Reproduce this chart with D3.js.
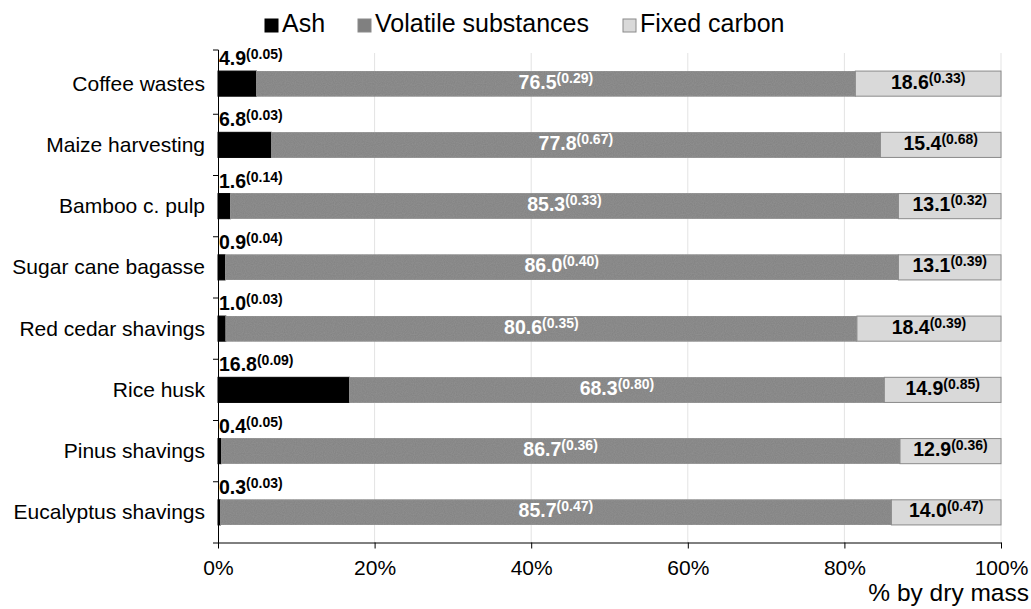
<!DOCTYPE html>
<html><head><meta charset="utf-8">
<script src="https://cdn.jsdelivr.net/npm/d3@7/dist/d3.min.js"></script>
<style>body{margin:0;background:#fff;} svg{font-family:"Liberation Sans",Arial,sans-serif;}</style>
</head><body>
<svg id="c" width="1031" height="609"></svg>
<script>
const categories = ["Coffee wastes","Maize harvesting","Bamboo c. pulp","Sugar cane bagasse","Red cedar shavings","Rice husk","Pinus shavings","Eucalyptus shavings"];
const ash = [4.9, 6.8, 1.6, 0.9, 1.0, 16.8, 0.4, 0.3];
const ashSd = ["0.05","0.03","0.14","0.04","0.03","0.09","0.05","0.03"];
const volatile = [76.5, 77.8, 85.3, 86.0, 80.6, 68.3, 86.7, 85.7];
const volatileSd = ["0.29","0.67","0.33","0.40","0.35","0.80","0.36","0.47"];
const fixed = [18.6, 15.4, 13.1, 13.1, 18.4, 14.9, 12.9, 14.0];
const fixedSd = ["0.33","0.68","0.32","0.39","0.39","0.85","0.36","0.47"];
const seriesNames = ["Ash","Volatile substances","Fixed carbon"];
const xTicks = [0,20,40,60,80,100];

const svg = d3.select("#c");
const x = d3.scaleLinear().domain([0,100]).range([218,1001]);
const y = d3.scaleBand().domain(categories).range([53,543]).paddingInner(0.59).paddingOuter(0.295);

const defs = svg.append("defs");
const f = defs.append("filter").attr("id","noise").attr("x",0).attr("y",0).attr("width","100%").attr("height","100%");
f.append("feTurbulence").attr("type","fractalNoise").attr("baseFrequency",0.9).attr("numOctaves",1).attr("result","n");
f.append("feColorMatrix").attr("in","n").attr("type","matrix").attr("values","0 0 0 0 0.5  0 0 0 0 0.5  0 0 0 0 0.5  0 0 0 0.25 0").attr("result","m");
f.append("feComposite").attr("in","m").attr("in2","SourceGraphic").attr("operator","atop");

// gridlines
svg.append("g").selectAll("line").data(xTicks.slice(1)).join("line")
  .attr("x1",d=>x(d)).attr("x2",d=>x(d)).attr("y1",53).attr("y2",543)
  .attr("stroke","#e3e3e3").attr("stroke-width",1);

const colors = ["#000000","#808080","#d9d9d9"];
const data = categories.map((c,i)=>({c, vals:[ash[i],volatile[i],fixed[i]]}));

const rowG = svg.append("g").selectAll("g").data(data).join("g");
rowG.each(function(d){
  let acc = 0;
  const g = d3.select(this);
  d.vals.forEach((v,k)=>{
    g.append("rect").attr("x",x(acc)).attr("y",y(d.c)).attr("width",x(acc+v)-x(acc)).attr("height",y.bandwidth())
      .attr("fill",colors[k]).attr("stroke", k===0?"#000":"#8a8a8a").attr("stroke-width",1)
      .attr("filter", k===1?"url(#noise)":null);
    acc += v;
  });
});

function label(xp, yp, val, sd, color, anchor){
  const t = svg.append("text").attr("x",xp).attr("y",yp).attr("fill",color).attr("font-weight","bold").attr("text-anchor",anchor);
  t.append("tspan").attr("font-size",19.5).text(val.toFixed(1));
  t.append("tspan").attr("font-size",14).attr("dy",-6).text("("+sd+")");
}
categories.forEach((c,i)=>{
  const yc = y(c)+y.bandwidth()/2;
  label(x(0)+1, y(c)-6, ash[i], ashSd[i], "#000", "start");
  label(x(ash[i]+volatile[i]/2), yc+5, volatile[i], volatileSd[i], "#fff", "middle");
  label(x(ash[i]+volatile[i]+fixed[i]/2), yc+5, fixed[i], fixedSd[i], "#000", "middle");
});

// y axis
const yAxisG = svg.append("g");
yAxisG.append("line").attr("x1",218.5).attr("x2",218.5).attr("y1",50).attr("y2",543).attr("stroke","#000");
const step = y.step();
const bounds = d3.range(categories.length+1).map(i=>53 + i*step - (i===0?3:0));
yAxisG.selectAll("line.t").data(bounds).join("line").attr("class","t")
  .attr("x1",213).attr("x2",218.5).attr("y1",d=>d).attr("y2",d=>d).attr("stroke","#000");
yAxisG.selectAll("text").data(categories).join("text")
  .attr("x",205).attr("y",d=>y(d)+y.bandwidth()/2+7).attr("text-anchor","end")
  .attr("font-size",21).attr("fill","#000").text(d=>d);

// x axis
const xAxis = d3.axisBottom(x).tickValues(xTicks).tickFormat(d=>d+"%").tickSize(6).tickSizeOuter(0);
const xg = svg.append("g").attr("transform","translate(0,542.5)").call(xAxis);
xg.select(".domain").attr("stroke","#000");
xg.selectAll(".tick line").attr("stroke","#000");
xg.selectAll(".tick text").attr("font-size",21).attr("fill","#000").attr("y",0).attr("dy",32).attr("font-family","Liberation Sans, Arial, sans-serif");
svg.append("text").attr("x",1029).attr("y",601).attr("text-anchor","end").attr("font-size",24.5).attr("fill","#000").text("% by dry mass");

// legend
const legX = [265, 358, 623];
const lg = svg.append("g").selectAll("g").data(seriesNames).join("g").attr("transform",(d,i)=>`translate(${legX[i]},0)`);
lg.append("rect").attr("x",0).attr("y",19).attr("width",13).attr("height",13).attr("fill",(d,i)=>colors[i]).attr("stroke",(d,i)=>i===0?"#000":"#8a8a8a");
lg.append("text").attr("x",17).attr("y",32).attr("font-size",25).attr("fill","#000").text(d=>d);
</script>
</body></html>
